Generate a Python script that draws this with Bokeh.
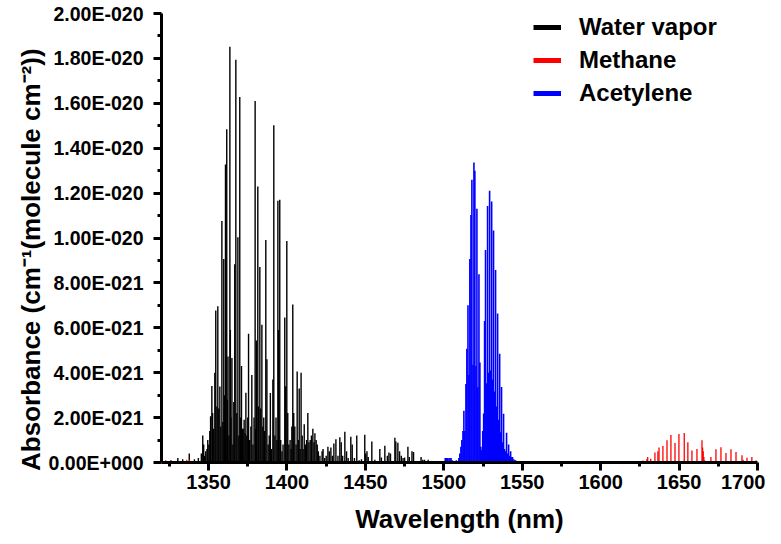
from bokeh.plotting import figure
from bokeh.models import (ColumnDataSource, Legend, LegendItem, FixedTicker,
                          CustomJSTickFormatter, Range1d)
from bokeh.embed import file_html
from bokeh.resources import INLINE

SCALE = 1e-21  # values below are in units of 1e-21

water_wl = [1326.0, 1330.4, 1333.5, 1337.7, 1341.0, 1343.5, 1345.4, 1346.3, 1346.9, 1347.4,
            1348.2, 1349.0, 1349.5, 1350.2, 1350.8, 1351.3, 1352.1, 1352.6, 1353.3, 1354.0,
            1354.6, 1355.3, 1355.9, 1356.5, 1357.2, 1357.8, 1358.5, 1359.1, 1359.7, 1360.2,
            1360.8, 1361.6, 1362.0, 1362.4, 1363.0, 1363.6, 1363.9, 1364.3, 1364.9, 1365.5,
            1366.1, 1366.7, 1367.4, 1368.0, 1368.7, 1369.3, 1369.9, 1370.4, 1371.0, 1371.6,
            1372.1, 1372.7, 1373.3, 1373.8, 1374.4, 1375.0, 1375.5, 1376.2, 1377.0, 1377.6,
            1378.3, 1379.0, 1379.7, 1380.0, 1380.5, 1381.4, 1381.9, 1382.7, 1383.3, 1384.0,
            1384.6, 1385.2, 1385.8, 1386.5, 1387.2, 1388.0, 1388.7, 1389.4, 1390.2, 1391.0,
            1391.6, 1392.3, 1393.0, 1393.6, 1394.2, 1394.6, 1395.4, 1396.0, 1396.8, 1397.5,
            1398.6, 1399.2, 1399.9, 1400.5, 1401.2, 1402.0, 1402.6, 1403.1, 1403.7, 1404.3,
            1405.0, 1405.8, 1406.5, 1407.2, 1407.8, 1408.4, 1409.0, 1409.7, 1410.3, 1411.0,
            1411.8, 1412.5, 1413.3, 1414.0, 1414.8, 1415.6, 1416.5, 1417.2, 1417.8, 1418.6,
            1419.3, 1420.0, 1421.0, 1422.4, 1423.0, 1424.0, 1425.0, 1426.1, 1427.0, 1428.0,
            1429.0, 1429.9, 1431.2, 1432.5, 1433.7, 1434.6, 1435.5, 1436.9, 1438.0, 1439.0,
            1440.7, 1441.6, 1443.0, 1444.5, 1446.0, 1447.5, 1449.6, 1450.2, 1451.0, 1451.8,
            1454.1, 1456.0, 1459.2, 1460.2, 1462.4, 1464.0, 1465.0, 1466.0, 1468.8, 1469.4,
            1470.7, 1471.8, 1472.9, 1474.0, 1475.0, 1477.1, 1478.0, 1479.7, 1480.7, 1482.6,
            1485.5, 1486.6, 1487.7, 1490.0, 1495.0, 1498.0]
water_val = [0.1, 0.2, 0.15, 0.4, 0.15, 0.2, 0.4, 1.2, 0.8, 0.3,
             0.5, 0.6, 1.0, 0.8, 1.4, 2.06, 3.41, 2.2, 1.5, 4.0,
             6.77, 2.5, 6.96, 2.4, 3.38, 1.6, 10.76, 1.8, 9.06, 3.0,
             13.27, 14.84, 2.8, 4.72, 1.2, 18.52, 5.9, 2.0, 4.66, 0.8,
             2.7, 8.83, 17.94, 2.2, 10.03, 1.2, 16.28, 2.0, 4.30, 1.5,
             1.5, 1.9, 1.3, 3.11, 1.2, 2.0, 5.74, 1.0, 1.6, 3.9,
             0.8, 2.0, 16.1, 1.5, 5.43, 12.29, 2.5, 8.71, 2.4, 6.14,
             1.6, 2.0, 1.4, 9.91, 4.6, 0.8, 1.2, 3.1, 0.6, 3.7,
             15.02, 1.2, 2.0, 1.0, 11.66, 5.9, 11.70, 1.0, 0.5, 0.8,
             6.46, 3.4, 9.87, 2.2, 0.8, 1.0, 0.6, 1.6, 7.04, 2.2,
             1.6, 0.8, 4.05, 1.0, 3.3, 0.6, 4.0, 1.2, 0.6, 1.7,
             0.8, 1.0, 2.2, 0.9, 1.0, 1.2, 1.5, 0.9, 1.3, 1.0,
             0.8, 0.5, 0.3, 0.5, 0.6, 0.2, 0.3, 0.7, 0.5, 0.67,
             0.3, 0.85, 1.04, 0.3, 1.12, 0.9, 0.3, 1.37, 0.5, 0.2,
             1.15, 0.8, 0.2, 1.2, 0.1, 0.15, 1.24, 0.4, 0.5, 0.25,
             0.93, 0.12, 0.6, 0.22, 0.75, 0.3, 0.45, 0.4, 1.1, 0.93,
             0.88, 0.5, 0.3, 0.2, 0.22, 0.7, 0.25, 0.5, 0.47, 0.07,
             0.25, 0.12, 0.12, 0.12, 0.05, 0.05]

methane_wl = [1322.7, 1336.1, 1337.9, 1627.0, 1629.5, 1630.0, 1631.9, 1634.6, 1636.5, 1637.2,
              1639.7, 1642.3, 1644.8, 1647.4, 1649.9, 1653.3, 1655.6, 1658.2, 1661.4, 1664.6,
              1665.0, 1665.4, 1665.8, 1666.2, 1670.3, 1673.5, 1676.7, 1679.9, 1683.1, 1686.3,
              1690.1, 1690.8, 1693.3, 1696.4, 1699.0]
methane_val = [0.1, 0.12, 0.12, 0.09, 0.16, 0.25, 0.17, 0.45, 0.5, 0.67,
               0.73, 0.99, 1.23, 0.87, 1.27, 1.31, 0.9, 0.54, 0.6, 0.99,
               0.67, 0.5, 0.25, 0.1, 0.25, 0.59, 0.68, 0.42, 0.59, 0.47,
               0.32, 0.12, 0.21, 0.24, 0.09]

acetylene_wl = [1500.9, 1501.6, 1502.4, 1503.3, 1504.0, 1504.6, 1505.5, 1508.0, 1509.6, 1510.2,
                1510.9, 1511.5, 1512.2, 1512.8, 1513.4, 1514.1, 1514.7, 1515.4, 1516.0, 1516.6,
                1517.3, 1517.9, 1518.6, 1519.2, 1519.8, 1520.5, 1521.1, 1521.7, 1522.4, 1523.0,
                1523.6, 1524.2, 1524.8, 1525.4, 1526.0, 1526.6, 1527.3, 1527.9, 1528.5, 1529.2,
                1529.8, 1530.5, 1531.1, 1531.7, 1532.4, 1533.0, 1533.6, 1534.3, 1534.9, 1535.6,
                1536.2, 1536.8, 1537.5, 1538.1, 1538.7, 1539.4, 1540.0, 1540.6, 1541.3, 1541.9,
                1542.6, 1543.2, 1543.8, 1544.5, 1545.1, 1545.8]
acetylene_val = [0.2, 0.2, 0.2, 0.2, 0.2, 0.2, 0.1, 0.1, 0.2, 0.4,
                 0.7, 1.0, 1.4, 2.3, 1.4, 3.5, 5.07, 7.0, 3.9, 9.06,
                 11.03, 12.6, 4.35, 13.36, 13.0, 4.3, 11.3, 3.35, 8.39, 4.45,
                 0.7, 0.55, 1.4, 2.18, 6.3, 9.46, 3.53, 11.43, 4.0, 12.1,
                 4.1, 11.63, 3.7, 10.33, 3.16, 8.58, 2.5, 6.64, 1.9, 4.84,
                 1.35, 3.36, 0.9, 2.17, 0.6, 0.5, 1.33, 0.4, 0.8, 0.3,
                 0.5, 0.25, 0.25, 0.15, 0.1, 0.1]

series_names = ["Water vapor", "Methane", "Acetylene"]
series_colors = ["black", "red", "blue"]

x_ticks = [1350, 1400, 1450, 1500, 1550, 1600, 1650, 1700]
x_minor = [1325, 1375, 1425, 1475, 1525, 1575, 1625, 1675]

FONT = "Liberation Sans"

p = figure(width=765, height=536, output_backend="svg", toolbar_location=None,
           x_range=Range1d(1320, 1700), y_range=Range1d(0, 2.0e-20),
           min_border_left=161, min_border_right=8, min_border_top=13, min_border_bottom=74)
p.outline_line_color = None
p.grid.grid_line_color = None
p.background_fill_color = "white"

def src(wl, val):
    return ColumnDataSource(dict(x=wl, y0=[0.0] * len(wl), y1=[v * SCALE for v in val]))

r_w = p.segment(x0="x", y0="y0", x1="x", y1="y1", source=src(water_wl, water_val),
                line_color="black", line_width=1.4)
r_m = p.segment(x0="x", y0="y0", x1="x", y1="y1", source=src(methane_wl, methane_val),
                line_color="red", line_width=1.3)
r_a = p.segment(x0="x", y0="y0", x1="x", y1="y1", source=src(acetylene_wl, acetylene_val),
                line_color="blue", line_width=1.6)

# legend proxies (thick lines, placed outside the visible range)
proxies = [p.line(x=[1000, 1001], y=[0, 0], line_color=c, line_width=5) for c in series_colors]
legend = Legend(items=[LegendItem(label=n, renderers=[r]) for n, r in zip(series_names, proxies)],
                location=(372, 355), border_line_color=None, background_fill_alpha=0,
                label_text_font=FONT, label_text_font_style="bold", label_text_font_size="24px",
                label_text_color="black",
                glyph_width=28, label_standoff=18, padding=0, margin=0, spacing=5,
                label_height=26, glyph_height=26)
p.add_layout(legend)

# axes
xa = p.xaxis[0]
xa.ticker = FixedTicker(ticks=x_ticks, minor_ticks=x_minor)
xa.axis_label = "Wavelength (nm)"
ya = p.yaxis[0]
ya.ticker = FixedTicker(ticks=[i * 2e-21 for i in range(11)],
                        minor_ticks=[(2 * i + 1) * 1e-21 for i in range(10)])
ya.formatter = CustomJSTickFormatter(code="""
    const s = tick.toExponential(2).toUpperCase();
    const parts = s.split('E');
    let e = parts[1];
    const sign = e[0];
    let digits = e.slice(1);
    while (digits.length < 3) { digits = '0' + digits; }
    return parts[0] + 'E' + sign + digits;
""")
ya.axis_label = "Absorbance (cm\u207b\u00b9(molecule cm\u207b\u00b2))" + "\u00a0" * 6

for ax in (xa, ya):
    ax.axis_line_width = 3
    ax.axis_line_color = "black"
    ax.major_tick_line_width = 3
    ax.minor_tick_line_width = 3
    ax.major_tick_out = 8
    ax.major_tick_in = 0
    ax.minor_tick_out = 4
    ax.minor_tick_in = 0
    ax.major_label_text_font = FONT
    ax.major_label_text_font_style = "bold"
    ax.major_label_text_color = "black"
    ax.axis_label_text_font = FONT
    ax.axis_label_text_font_style = "bold"
    ax.axis_label_text_font_size = "26px"
    ax.axis_label_text_color = "black"

xa.major_label_text_font_size = "20px"
ya.major_label_text_font_size = "19.5px"
xa.major_label_standoff = 4
xa.axis_label_standoff = 12
ya.major_label_standoff = 10
ya.axis_label_standoff = 0

open("out.html", "w").write(file_html(p, INLINE))
